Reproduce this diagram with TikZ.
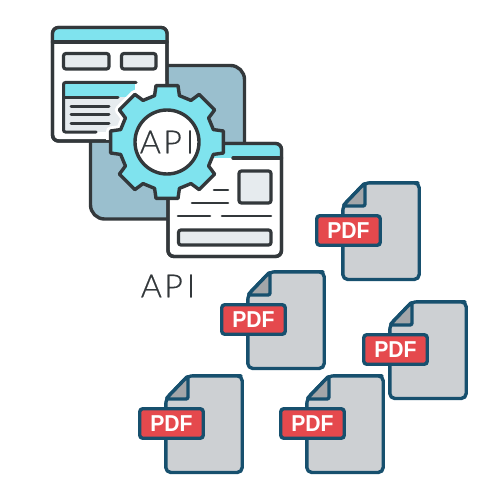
\documentclass[tikz,border=0pt]{standalone}
\usepackage{fontspec}
\setmainfont{Lato Light}[FakeBold=0.5]
\newfontfamily\pdffont{Liberation Sans}
\usetikzlibrary{calc}
\definecolor{ink}{HTML}{33383B}
\definecolor{cyanf}{HTML}{7FE3EE}
\definecolor{slatef}{HTML}{9ABFCE}
\definecolor{paleg}{HTML}{E6EBEE}
\definecolor{navy}{HTML}{17506E}
\definecolor{docg}{HTML}{CDD0D3}
\definecolor{foldg}{HTML}{A3A6A9}
\definecolor{pdfred}{HTML}{E5494D}
\newcommand{\apitext}{A\hspace{2.5pt}P\hspace{4pt}I}
\newcommand{\gearpath}{($(gc)+(-11:57.5)$)
  \foreach \a in {0,45,...,315} {
    -- ($(gc)+(\a-11:57.5)$) -- ($(gc)+(\a+11:57.5)$) -- ($(gc)+(\a+15:48)$) -- ($(gc)+(\a+30:48)$)
  } -- cycle}
\tikzset{
  x=1pt,y=-1pt,
  outl/.style={draw=ink,line width=3.4pt,line join=round,line cap=round},
  bar/.style={draw=ink,line width=3.2pt,fill=paleg,rounded corners=2.5pt},
  rule/.style={draw=ink,line width=3pt,line cap=round},
  thinrule/.style={draw=ink,line width=2.6pt,line cap=round},
  win/.style={outl,fill=white,rounded corners=6pt},
  docline/.style={draw=navy,line width=3.4pt,line join=round},
  lab/.style={draw=navy,line width=3.4pt,fill=pdfred,rounded corners=3pt,minimum width=63.5pt,minimum height=29.5pt,inner sep=0pt,text=white},
  apilabel/.style={font=\fontsize{32}{32}\selectfont,text=ink,inner sep=0pt},
  pics/pdfdoc/.style={code={
    \draw[docline,fill=docg,rounded corners=5pt] (365,182.8)--(413,182.8)--(419.2,182.8)--(419.2,279.5)--(342.8,279.5)--(342.8,206)--cycle;
    \draw[docline,fill=foldg,rounded corners=2pt] (365,182.8)--(365,206)--(342.8,206)--cycle;
    \node[lab] at (348.5,230.5) {\pdffont\bfseries\scalebox{.92}[1]{\fontsize{23}{23}\selectfont PDF}};
  }}
}
\begin{document}
\begin{tikzpicture}
\useasboundingbox (0,0) rectangle (500,500);
\coordinate (gc) at (167,142);
% back square
\draw[outl,fill=slatef,rounded corners=14pt] (90.5,65.5) rectangle (244.5,219);
% left window
\draw[win] (52.5,27.5) rectangle (167,141);
\begin{scope}
\clip[rounded corners=6pt] (52.5,27.5) rectangle (167,141);
\fill[cyanf] (52.5,27.5) rectangle (167,42);
\end{scope}
\draw[outl] (52.5,42) -- (167,42);
\draw[win,fill=none] (52.5,27.5) rectangle (167,141);
\draw[bar] (63.5,53.5) rectangle (109,69);
\draw[bar] (121.5,53.5) rectangle (156,69);
\fill[paleg] (63,83) rectangle (125,132);
\fill[cyanf] (63,83) rectangle (135,97);
\draw[rule,rounded corners=2pt] (136,82.5) -- (63.5,82.5) -- (63.5,132) -- (96,132);
\draw[rule] (65,98) -- (118,98);
\draw[rule] (71,107) -- (109,107);
\draw[rule] (71,115) -- (109,115);
\draw[rule] (71,123) -- (109,123);
% white halo of the gear inside the left window
\begin{scope}
\clip (55,45) rectangle (165,139);
\draw[draw=white,line width=9pt,line join=round] \gearpath;
\end{scope}
% right window
\draw[win] (168,143.5) rectangle (281.5,256.5);
\begin{scope}
\clip[rounded corners=6pt] (168,143.5) rectangle (281.5,256.5);
\fill[cyanf] (168,143.5) rectangle (281.5,158);
\end{scope}
\draw[win,fill=none] (168,143.5) rectangle (281.5,256.5);
\draw[outl] (233,158) -- (281.5,158);
\draw[bar,fill=paleg] (239,171) rectangle (271,203);
\draw[thinrule] (214,190) -- (228,190);
\draw[thinrule] (192,203) -- (228,203);
\draw[thinrule] (178,216) -- (210,216);
\draw[thinrule] (222,216) -- (271,216);
\draw[bar] (178.5,230) rectangle (271,245);
% gear
\draw[outl,fill=cyanf] \gearpath;
\node[circle,draw=ink,line width=3.4pt,fill=white,minimum size=64pt,inner sep=0pt,apilabel] (hub) at (gc) {\apitext};
\node[apilabel] (caption) at (168,286) {\apitext};
% documents
\foreach \dx/\dy in {0/0,-95/89,47/119,-177/193,-36/193}
  \pic[shift={(\dx,\dy)}] {pdfdoc};
\end{tikzpicture}
\end{document}
